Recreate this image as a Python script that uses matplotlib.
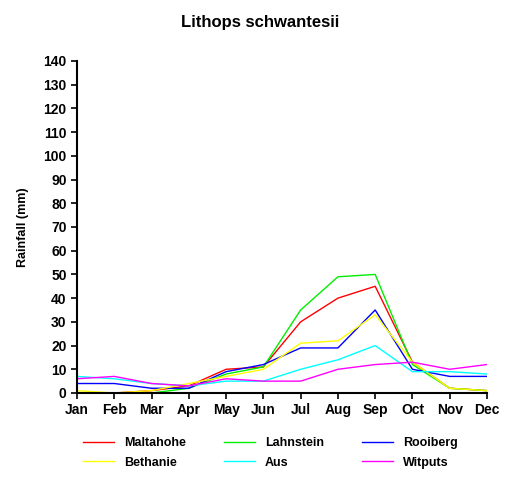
import matplotlib
matplotlib.use("Agg")
import matplotlib.pyplot as plt

months = ["Jan","Feb","Mar","Apr","May","Jun","Jul","Aug","Sep","Oct","Nov","Dec"]
maltahohe = [0,0,1,3,10,11,30,40,45,13,2,1]
lahnstein = [0,0,0,2,8,11,35,49,50,12,2,1]
rooiberg = [4,4,2,2,9,12,19,19,35,10,7,7]
bethanie = [1,0,1,4,7,10,21,22,33,13,2,1]
aus = [7,6,4,3,5,5,10,14,20,9,9,8]
witputs = [6,7,4,3,6,5,5,10,12,13,10,12]

series = [("Maltahohe", maltahohe, "#ff0000"), ("Lahnstein", lahnstein, "#00ee00"),
          ("Rooiberg", rooiberg, "#0000ff"), ("Bethanie", bethanie, "#ffff00"),
          ("Aus", aus, "#00ffff"), ("Witputs", witputs, "#ff00ff")]

plt.rcParams['font.family'] = ['Liberation Sans', 'DejaVu Sans']
fig = plt.figure(figsize=(5.2, 4.87), dpi=100)
ax = fig.add_axes([77/520, 1-393/487, 410/520, 332/487])
x = list(range(12))
lines = {}
for name, vals, c in series:
    lines[name], = ax.plot(x, vals, color=c, lw=1, label=name)
ax.set_xlim(0, 11)
ax.set_ylim(0, 140)
ax.set_yticks(range(0, 141, 10))
ax.set_xticks(x)
ax.set_xticklabels(months, fontweight='bold', fontsize=10)
for t in ax.get_yticklabels():
    t.set_fontweight('bold'); t.set_fontsize(10)
ax.spines['top'].set_visible(False)
ax.spines['right'].set_visible(False)
ax.spines['left'].set_linewidth(1.5)
ax.spines['bottom'].set_linewidth(1.5)
ax.tick_params(direction='out', length=4, width=1.2)
ax.set_ylabel("Rainfall (mm)", fontweight='bold', fontsize=9, labelpad=10)
fig.text(0.5, 1-22/487, "Lithops schwantesii", ha='center', va='center', fontweight='bold', fontsize=12)
order = ["Maltahohe", "Bethanie", "Lahnstein", "Aus", "Rooiberg", "Witputs"]
fig.legend([lines[n] for n in order], order, loc='center', bbox_to_anchor=(0.52, 1-453/487), ncol=3, frameon=False,
           prop={'weight': 'bold', 'size': 9}, columnspacing=3.0, handlelength=2.5, labelspacing=0.6)
fig.savefig("out.png", dpi=100, facecolor='white')
